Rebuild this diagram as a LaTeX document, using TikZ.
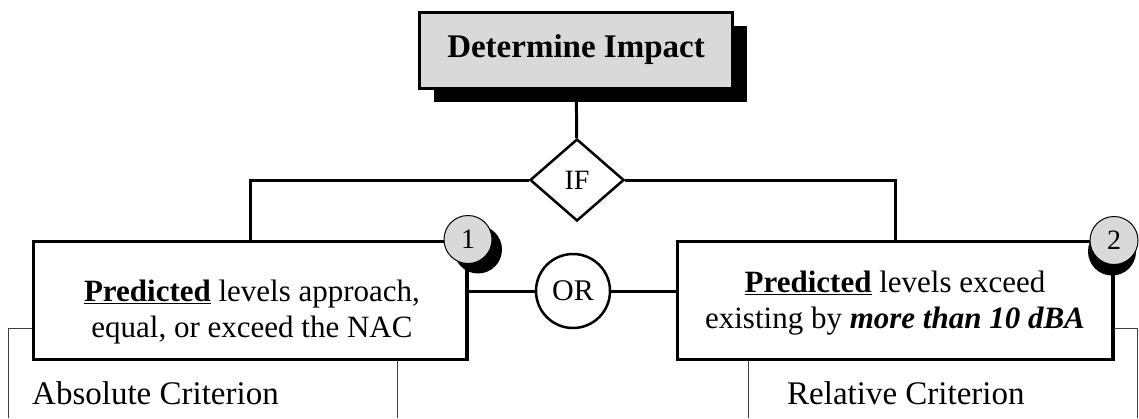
\documentclass[tikz,border=0pt]{standalone}
\usepackage{fontspec}
\setmainfont{Liberation Serif}
\usetikzlibrary{calc, positioning, shapes.geometric, shadows}

\begin{document}
\begin{tikzpicture}[x=1pt, y=-1pt]
            \useasboundingbox (0,0) rectangle (1139,418);

            \node[draw, line width=3pt, fill=gray!30, minimum width=313pt, minimum height=76pt,
                  general shadow={fill=black, shadow xshift=14pt, shadow yshift=-14pt},
                  font=\fontsize{33}{36}\selectfont\bfseries] (top) at (576,50) {Determine Impact};
            \node[diamond, draw, line width=2.5pt, fill=white, minimum width=94pt, minimum height=82pt,
                  inner sep=0pt, font=\fontsize{28}{30}\selectfont] (ifd) at (577,180) {IF};

            \node[draw, line width=3pt, fill=white, minimum width=433pt, minimum height=118pt,
                  general shadow={fill=black, shadow xshift=2pt, shadow yshift=-2pt}] (absbox) at (250,300) {};
            \node[draw, line width=3pt, fill=white, minimum width=435pt, minimum height=118pt,
                  general shadow={fill=black, shadow xshift=2pt, shadow yshift=-2pt}] (relbox) at (895,300) {};
            \node[align=center, font=\fontsize{31}{36}\selectfont] (abstext) at ($(absbox)+(2,12)$)
                {\underline{\textbf{Predicted}} levels approach,\\ equal, or exceed the NAC};
            \node[align=center, font=\fontsize{31}{36}\selectfont] (reltext) at ($(relbox)+(0,3)$)
                {\underline{\textbf{Predicted}} levels exceed\\ existing by \textbf{\textit{more than 10 dBA}}};

            \node[circle, draw, line width=1pt, fill=gray!30, minimum size=48pt, inner sep=0pt,
                  general shadow={fill=black, shadow xshift=10pt, shadow yshift=-10pt},
                  font=\fontsize{28}{30}\selectfont] (one) at (absbox.north east) {1};
            \node[circle, draw, line width=1pt, fill=gray!30, minimum size=48pt, inner sep=0pt,
                  general shadow={fill=black, shadow xshift=-2pt, shadow yshift=-11pt},
                  font=\fontsize{28}{30}\selectfont] (two) at ($(relbox.north east)+(0,1)$) {2};

            \node[circle, draw, line width=2.5pt, fill=white, minimum size=74pt, inner sep=0pt,
                  font=\fontsize{30}{30}\selectfont] (orc) at (573,291) {OR};

            % connectors
            \draw[line width=3pt] (top) -- (ifd);
            \draw[line width=3pt] (ifd.west) -| (absbox.north);
            \draw[line width=3pt] (ifd.east) -| (relbox.north);
            \draw[line width=3pt] (orc) -- (orc -| absbox.east);
            \draw[line width=3pt] (orc) -- (orc -| relbox.west);

            % criterion brackets
            \coordinate (absfoot) at (8,418);
            \coordinate (absfoot2) at (397,418);
            \coordinate (relfoot) at (1137.5,418);
            \coordinate (relfoot2) at (748,418);
            \draw[line width=1pt, black!75] (absbox.west |- 0,328) -| (absfoot);
            \draw[line width=1pt, black!75] (absbox.south -| absfoot2) -- (absfoot2);
            \draw[line width=1pt, black!75] (relbox.east |- 0,328) -| (relfoot);
            \draw[line width=1pt, black!75] (relbox.south -| relfoot2) -- (relfoot2);

            \node[anchor=base west, inner sep=0pt, font=\fontsize{33}{34}\selectfont] (abscrit) at (32,404) {Absolute Criterion};
            \node[anchor=base west, inner sep=0pt, font=\fontsize{33}{34}\selectfont] (relcrit) at (787,404) {Relative Criterion};
        \end{tikzpicture}
\end{document}
